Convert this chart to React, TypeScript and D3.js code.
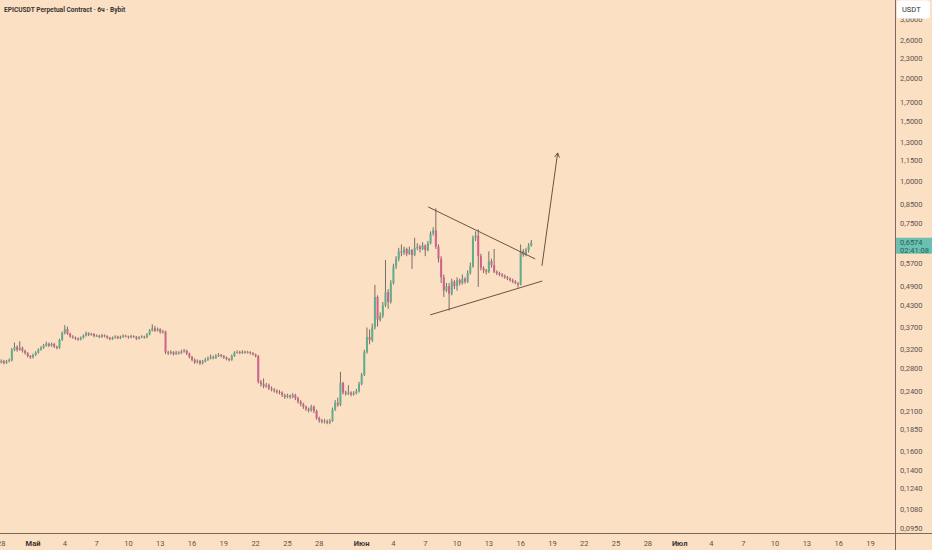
import React, { useEffect, useRef } from 'react';
import * as d3 from 'd3';

const WIDTH = 932;
const HEIGHT = 550;

// 6h candles, first one opens 27 Apr 18:00, each candle opens at the previous close
const firstCandle = new Date(2024, 3, 27, 18);
const candleHours = 6;
const firstOpen = 0.29;

const closes = [
  0.292, 0.295, 0.291, 0.294, 0.296, 0.318, 0.324, 0.318, 0.322, 0.316,
  0.311, 0.305, 0.302, 0.307, 0.312, 0.318, 0.322, 0.327, 0.331, 0.327,
  0.331, 0.325, 0.322, 0.340, 0.356, 0.366, 0.355, 0.348, 0.346, 0.343,
  0.341, 0.345, 0.350, 0.356, 0.352, 0.354, 0.349, 0.350, 0.347, 0.351,
  0.349, 0.345, 0.342, 0.345, 0.348, 0.344, 0.347, 0.350, 0.348, 0.346,
  0.349, 0.347, 0.343, 0.346, 0.348, 0.346, 0.353, 0.363, 0.368, 0.362,
  0.366, 0.358, 0.360, 0.313, 0.311, 0.313, 0.309, 0.312, 0.311, 0.314,
  0.316, 0.310, 0.303, 0.297, 0.292, 0.295, 0.290, 0.294, 0.297, 0.300,
  0.303, 0.301, 0.305, 0.307, 0.305, 0.302, 0.299, 0.297, 0.305, 0.312,
  0.313, 0.311, 0.314, 0.312, 0.313, 0.311, 0.308, 0.305, 0.256, 0.252,
  0.248, 0.250, 0.245, 0.243, 0.241, 0.239, 0.238, 0.234, 0.231, 0.233,
  0.231, 0.234, 0.229, 0.224, 0.220, 0.216, 0.213, 0.211, 0.216, 0.210,
  0.200, 0.197, 0.195, 0.196, 0.194, 0.196, 0.212, 0.222, 0.219, 0.254,
  0.238, 0.236, 0.238, 0.235, 0.237, 0.240, 0.252, 0.268, 0.313, 0.347,
  0.340, 0.370, 0.455, 0.390, 0.400, 0.430, 0.470, 0.440, 0.500, 0.560,
  0.590, 0.620, 0.615, 0.630, 0.610, 0.625, 0.605, 0.635, 0.640, 0.630,
  0.645, 0.625, 0.655, 0.700, 0.715, 0.640, 0.590, 0.520, 0.475, 0.490,
  0.465, 0.505, 0.490, 0.510, 0.500, 0.515, 0.505, 0.535, 0.560, 0.680,
  0.690, 0.600, 0.555, 0.545, 0.540, 0.580, 0.565, 0.540, 0.535, 0.530,
  0.525, 0.520, 0.515, 0.510, 0.505, 0.500, 0.495, 0.620, 0.605, 0.625,
  0.645, 0.6574,
];

const highs = [
  0.296, 0.298, 0.297, 0.297, 0.300, 0.322, 0.334, 0.328, 0.337, 0.325,
  0.318, 0.313, 0.307, 0.310, 0.315, 0.321, 0.326, 0.331, 0.336, 0.334,
  0.334, 0.333, 0.327, 0.343, 0.360, 0.376, 0.372, 0.357, 0.351, 0.348,
  0.346, 0.348, 0.353, 0.360, 0.358, 0.357, 0.356, 0.353, 0.352, 0.354,
  0.353, 0.351, 0.347, 0.348, 0.351, 0.350, 0.350, 0.353, 0.352, 0.350,
  0.352, 0.351, 0.349, 0.349, 0.351, 0.350, 0.356, 0.366, 0.378, 0.374,
  0.370, 0.368, 0.364, 0.362, 0.316, 0.317, 0.315, 0.316, 0.315, 0.318,
  0.320, 0.318, 0.312, 0.305, 0.300, 0.298, 0.297, 0.297, 0.301, 0.304,
  0.308, 0.306, 0.309, 0.311, 0.309, 0.307, 0.304, 0.301, 0.308, 0.315,
  0.317, 0.316, 0.317, 0.316, 0.316, 0.315, 0.313, 0.310, 0.307, 0.259,
  0.262, 0.254, 0.253, 0.248, 0.245, 0.243, 0.242, 0.240, 0.236, 0.236,
  0.235, 0.237, 0.236, 0.231, 0.226, 0.222, 0.218, 0.215, 0.219, 0.218,
  0.212, 0.202, 0.199, 0.199, 0.198, 0.199, 0.215, 0.226, 0.230, 0.274,
  0.256, 0.241, 0.250, 0.240, 0.240, 0.244, 0.256, 0.272, 0.318, 0.370,
  0.365, 0.380, 0.494, 0.460, 0.410, 0.440, 0.585, 0.480, 0.510, 0.570,
  0.600, 0.635, 0.650, 0.640, 0.636, 0.640, 0.630, 0.680, 0.655, 0.648,
  0.660, 0.650, 0.665, 0.710, 0.730, 0.830, 0.650, 0.600, 0.530, 0.500,
  0.500, 0.515, 0.510, 0.520, 0.515, 0.530, 0.520, 0.545, 0.575, 0.690,
  0.710, 0.720, 0.610, 0.560, 0.550, 0.620, 0.590, 0.630, 0.545, 0.540,
  0.535, 0.530, 0.525, 0.520, 0.515, 0.510, 0.503, 0.650, 0.630, 0.635,
  0.655, 0.670,
];

const lows = [
  0.287, 0.290, 0.288, 0.289, 0.292, 0.294, 0.315, 0.314, 0.316, 0.312,
  0.308, 0.302, 0.299, 0.300, 0.305, 0.310, 0.316, 0.320, 0.325, 0.324,
  0.325, 0.322, 0.319, 0.320, 0.338, 0.353, 0.352, 0.345, 0.343, 0.340,
  0.338, 0.339, 0.343, 0.348, 0.349, 0.350, 0.346, 0.347, 0.344, 0.345,
  0.346, 0.342, 0.339, 0.340, 0.343, 0.342, 0.342, 0.345, 0.346, 0.343,
  0.344, 0.345, 0.340, 0.341, 0.344, 0.343, 0.344, 0.351, 0.360, 0.359,
  0.360, 0.355, 0.355, 0.309, 0.307, 0.308, 0.306, 0.307, 0.308, 0.309,
  0.312, 0.307, 0.300, 0.294, 0.289, 0.290, 0.287, 0.288, 0.292, 0.295,
  0.298, 0.298, 0.299, 0.303, 0.302, 0.299, 0.296, 0.294, 0.295, 0.303,
  0.310, 0.309, 0.309, 0.310, 0.310, 0.308, 0.306, 0.302, 0.253, 0.248,
  0.245, 0.246, 0.242, 0.240, 0.238, 0.236, 0.235, 0.231, 0.228, 0.229,
  0.228, 0.229, 0.226, 0.221, 0.217, 0.213, 0.210, 0.208, 0.209, 0.207,
  0.198, 0.194, 0.193, 0.193, 0.192, 0.192, 0.195, 0.210, 0.216, 0.217,
  0.235, 0.233, 0.234, 0.232, 0.233, 0.235, 0.238, 0.250, 0.266, 0.310,
  0.330, 0.335, 0.365, 0.372, 0.385, 0.395, 0.425, 0.420, 0.435, 0.495,
  0.550, 0.580, 0.600, 0.605, 0.600, 0.605, 0.550, 0.600, 0.625, 0.615,
  0.625, 0.600, 0.620, 0.650, 0.690, 0.630, 0.575, 0.500, 0.455, 0.470,
  0.415, 0.460, 0.480, 0.475, 0.492, 0.495, 0.498, 0.500, 0.530, 0.555,
  0.665, 0.487, 0.545, 0.535, 0.530, 0.535, 0.555, 0.535, 0.528, 0.524,
  0.520, 0.515, 0.510, 0.505, 0.500, 0.496, 0.485, 0.492, 0.598, 0.600,
  0.615, 0.640,
];

const priceTicks = [
  3.0, 2.6, 2.3, 2.0, 1.7, 1.5, 1.3, 1.15, 1.0, 0.85, 0.75, 0.57,
  0.49, 0.43, 0.37, 0.32, 0.28, 0.24, 0.21, 0.185, 0.16, 0.14, 0.124, 0.108, 0.095,
];

const dateTicks = [
  '2024-04-28', '2024-05-01', '2024-05-04', '2024-05-07', '2024-05-10', '2024-05-13',
  '2024-05-16', '2024-05-19', '2024-05-22', '2024-05-25', '2024-05-28', '2024-06-01',
  '2024-06-04', '2024-06-07', '2024-06-10', '2024-06-13', '2024-06-16', '2024-06-19',
  '2024-06-22', '2024-06-25', '2024-06-28', '2024-07-01', '2024-07-04', '2024-07-07',
  '2024-07-10', '2024-07-13', '2024-07-16', '2024-07-19',
];
const dateTickLabels = [
  '28', 'Май', '4', '7', '10', '13', '16', '19', '22', '25', '28', 'Июн',
  '4', '7', '10', '13', '16', '19', '22', '25', '28', 'Июл', '4', '7',
  '10', '13', '16', '19',
];
const monthLabels = ['Май', 'Июн', 'Июл'];

// drawings: [time, price]
const triangleUpper: [string, number][] = [['2024-06-07 06:40', 0.838], ['2024-06-17 09:00', 0.589]];
const triangleLower: [string, number][] = [['2024-06-07 11:20', 0.403], ['2024-06-18 01:00', 0.507]];
const arrowPath: [string, number][] = [['2024-06-18 00:15', 0.562], ['2024-06-19 11:45', 1.209]];

const lastPrice = 0.6574;
const countdown = '02:41:08';
const title = 'EPICUSDT Perpetual Contract · 6ч · Bybit';
const currency = 'USDT';

const BG = '#fce0c4';
const UP = '#5fae8c';
const DOWN = '#d2608c';
const WICK = '#54504b';
const AXIS_LINE = '#7b6a5c';
const LABEL = '#5a5550';
const DRAW = '#6e5140';
const FONT = 'Roboto, "Open Sans", sans-serif';

const CandleChart: React.FC = () => {
  const svgRef = useRef<SVGSVGElement>(null);

  useEffect(() => {
    const svg = d3.select(svgRef.current);
    svg.selectAll('*').remove();

    const plotRight = 895.5;
    const plotBottom = 533;

    const x = d3.scaleTime()
      .domain([new Date(2024, 3, 27, 21, 14), new Date(2024, 6, 21, 8, 40)])
      .range([0, plotRight]);
    const y = d3.scaleLog()
      .domain([0.0918, 3.41])
      .range([plotBottom, 0]);

    const parseDay = d3.timeParse('%Y-%m-%d');
    const parseTime = d3.timeParse('%Y-%m-%d %H:%M');
    const fmt = (v: number) => d3.format('.4f')(v).replace('.', ',');

    svg.append('rect').attr('width', WIDTH).attr('height', HEIGHT).attr('fill', BG);

    // candles
    const candles = closes.map((c, i) => ({
      t: d3.timeHour.offset(firstCandle, i * candleHours),
      o: i === 0 ? firstOpen : closes[i - 1],
      c,
      h: highs[i],
      l: lows[i],
    }));

    const cg = svg.append('g');
    cg.selectAll('line.wick')
      .data(candles)
      .enter().append('line')
      .attr('x1', d => x(d.t))
      .attr('x2', d => x(d.t))
      .attr('y1', d => y(d.h))
      .attr('y2', d => y(d.l))
      .attr('stroke', WICK)
      .attr('stroke-width', 0.8);

    cg.selectAll('rect.body')
      .data(candles)
      .enter().append('rect')
      .attr('x', d => x(d.t) - 1)
      .attr('width', 2)
      .attr('y', d => y(Math.max(d.o, d.c)))
      .attr('height', d => Math.max(0.9, Math.abs(y(d.o) - y(d.c))))
      .attr('fill', d => (d.c >= d.o ? UP : DOWN));

    // drawings
    const toPt = (p: [string, number]) => [x(parseTime(p[0])!), y(p[1])] as [number, number];
    const dg = svg.append('g').attr('stroke', DRAW).attr('fill', 'none').attr('stroke-width', 1);
    [triangleUpper, triangleLower, arrowPath].forEach(seg => {
      const [a, b] = seg.map(toPt);
      dg.append('line').attr('x1', a[0]).attr('y1', a[1]).attr('x2', b[0]).attr('y2', b[1]);
    });
    const [a0, a1] = arrowPath.map(toPt);
    const ang = Math.atan2(a1[1] - a0[1], a1[0] - a0[0]);
    const head = 5;
    const p1 = [a1[0] - head * Math.cos(ang - 0.5), a1[1] - head * Math.sin(ang - 0.5)];
    const p2 = [a1[0] - head * Math.cos(ang + 0.5), a1[1] - head * Math.sin(ang + 0.5)];
    dg.append('path').attr('d', `M${p1[0]},${p1[1]}L${a1[0]},${a1[1]}L${p2[0]},${p2[1]}`);

    // axis lines
    svg.append('line')
      .attr('x1', plotRight).attr('x2', plotRight).attr('y1', 0).attr('y2', HEIGHT)
      .attr('stroke', AXIS_LINE).attr('stroke-width', 1);
    svg.append('line')
      .attr('x1', 0).attr('x2', WIDTH).attr('y1', plotBottom + 0.5).attr('y2', plotBottom + 0.5)
      .attr('stroke', AXIS_LINE).attr('stroke-width', 1);

    // price axis labels
    svg.append('g').selectAll('text')
      .data(priceTicks)
      .enter().append('text')
      .attr('x', 900)
      .attr('y', d => y(d))
      .attr('dy', '0.35em')
      .attr('font-family', FONT)
      .attr('font-size', 7.5)
      .attr('fill', LABEL)
      .text(d => fmt(d));

    // date axis labels
    svg.append('g').selectAll('text')
      .data(dateTicks.map((d, i) => ({ t: parseDay(d)!, label: dateTickLabels[i] })))
      .enter().append('text')
      .attr('x', d => x(d.t))
      .attr('y', 543)
      .attr('dy', '0.35em')
      .attr('text-anchor', 'middle')
      .attr('font-family', FONT)
      .attr('font-size', 7.5)
      .attr('font-weight', d => (monthLabels.includes(d.label) ? 'bold' : 'normal'))
      .attr('fill', d => (monthLabels.includes(d.label) ? '#3a3633' : LABEL))
      .text(d => d.label);

    // last price label
    const ly = y(lastPrice);
    svg.append('rect')
      .attr('x', plotRight + 0.5).attr('y', ly - 5).attr('width', WIDTH - plotRight).attr('height', 16)
      .attr('fill', '#6cc0b0');
    svg.append('text')
      .attr('x', 900).attr('y', ly).attr('dy', '0.35em')
      .attr('font-family', FONT).attr('font-size', 7.5).attr('fill', '#23635c')
      .text(fmt(lastPrice));
    svg.append('text')
      .attr('x', 900).attr('y', ly + 7.5).attr('dy', '0.35em')
      .attr('font-family', FONT).attr('font-size', 7.5).attr('fill', '#23635c')
      .text(countdown);

    // currency box (covers the top of the 3,0000 label as in the terminal)
    svg.append('rect')
      .attr('x', 897).attr('y', 0.5).attr('width', 33).attr('height', 18).attr('rx', 2.5)
      .attr('fill', '#ffffff');
    svg.append('text')
      .attr('x', 902).attr('y', 9.5).attr('dy', '0.35em')
      .attr('font-family', FONT).attr('font-size', 7.5).attr('fill', '#333')
      .text(currency);

    // title
    svg.append('text')
      .attr('x', 4).attr('y', 9.5).attr('dy', '0.35em')
      .attr('font-family', FONT).attr('font-size', 6.6).attr('font-weight', 'bold')
      .attr('fill', '#3a3633')
      .text(title);
  }, []);

  return <svg ref={svgRef} width={WIDTH} height={HEIGHT} style={{ display: 'block' }} />;
};

export default function App() {
  return (
    <div style={{ position: 'fixed', left: 0, top: 0, width: WIDTH, height: HEIGHT }}>
      <CandleChart />
    </div>
  );
}
